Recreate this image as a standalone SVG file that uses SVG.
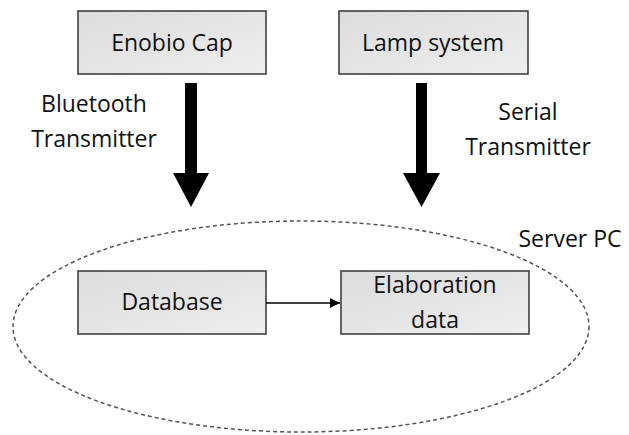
<svg xmlns="http://www.w3.org/2000/svg" width="629" height="435" viewBox="0 0 629 435">
<defs>
<linearGradient id="g" x1="0" y1="0" x2="1" y2="1">
<stop offset="0" stop-color="#dcdcdc"/>
<stop offset="1" stop-color="#eeeeee"/>
</linearGradient>
<marker id="ah" viewBox="0 0 10 10" refX="10" refY="5" markerWidth="10" markerHeight="10" markerUnits="userSpaceOnUse" orient="auto">
<path d="M0,0 L10,5 L0,10 z" fill="#000"/>
</marker>
<style>
.box{fill:url(#g);stroke:#404040;stroke-width:1.6}
.t{font-family:"Open Sans","Noto Sans",sans-serif;font-size:23px;fill:#111;text-anchor:middle}
</style>
</defs>
<rect width="629" height="435" fill="#fff"/>
<g id="server-pc">
<ellipse cx="301" cy="326.5" rx="288" ry="105.5" fill="none" stroke="#555" stroke-width="1.5" stroke-dasharray="4 3"/>
<text class="t" x="570" y="247">Server PC</text>
</g>
<g id="enobio-cap">
<rect class="box" x="78" y="11" width="188" height="63"/>
<text class="t" x="172" y="51">Enobio Cap</text>
</g>
<g id="lamp-system">
<rect class="box" x="339" y="11" width="189" height="63"/>
<text class="t" x="433" y="51">Lamp system</text>
</g>
<g id="database">
<rect class="box" x="78" y="271" width="188" height="63"/>
<text class="t" x="172" y="310">Database</text>
</g>
<g id="elaboration-data">
<rect class="box" x="341" y="271" width="188" height="63"/>
<text class="t" x="435" y="293">Elaboration</text>
<text class="t" x="435" y="328">data</text>
</g>
<g id="connectors">
<polygon points="185,83 197,83 197,173 209,173 191,207 173,173 185,173" fill="#000"/>
<polygon points="416,83 427,83 427,173 440,173 421.5,207 403,173 416,173" fill="#000"/>
<line x1="266" y1="303" x2="340" y2="303" stroke="#000" stroke-width="1.5" marker-end="url(#ah)"/>
<text class="t" x="94" y="112">Bluetooth</text>
<text class="t" x="94" y="147">Transmitter</text>
<text class="t" x="528" y="120">Serial</text>
<text class="t" x="528" y="155">Transmitter</text>
</g>
</svg>
